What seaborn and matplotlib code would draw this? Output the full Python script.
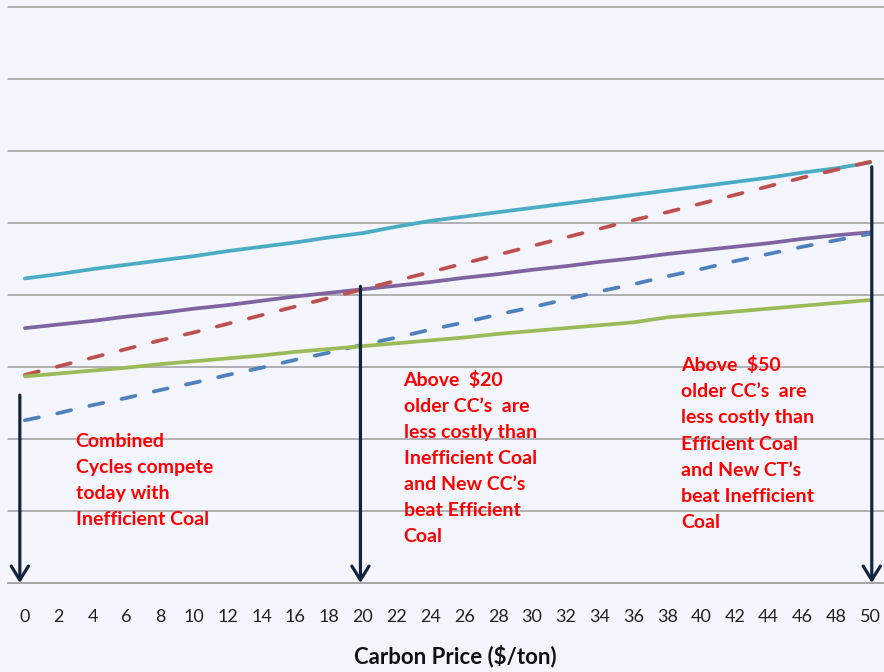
import pandas as pd
import numpy as np
import matplotlib.pyplot as plt
import seaborn as sns

carbon_price = [0, 2, 4, 6, 8, 10, 12, 14, 16, 18, 20, 22, 24, 26, 28, 30, 32, 34, 36, 38, 40, 42, 44, 46, 48, 50]
new_ct = [42.3, 42.9, 43.6, 44.2, 44.8, 45.4, 46.1, 46.7, 47.3, 48.0, 48.6, 49.5, 50.3, 50.9, 51.5, 52.1,
          52.7, 53.3, 53.9, 54.5, 55.1, 55.7, 56.3, 57.0, 57.6, 58.4]
older_cc = [35.4, 35.9, 36.4, 37.0, 37.5, 38.1, 38.6, 39.2, 39.8, 40.3, 40.8, 41.3, 41.8, 42.4, 42.9, 43.5,
            44.0, 44.6, 45.1, 45.7, 46.2, 46.7, 47.2, 47.8, 48.3, 48.7]
inefficient_coal = [28.9, 30.1, 31.3, 32.5, 33.7, 34.8, 36.0, 37.2, 38.4, 39.6, 40.8, 42.0, 43.2, 44.4, 45.6,
                    46.8, 48.0, 49.2, 50.4, 51.5, 52.7, 53.9, 55.1, 56.3, 57.4, 58.5]
efficient_coal = [22.6, 23.6, 24.7, 25.7, 26.8, 27.8, 28.9, 29.9, 31.0, 32.0, 33.1, 34.1, 35.2, 36.2, 37.3,
                  38.3, 39.4, 40.5, 41.5, 42.6, 43.6, 44.7, 45.7, 46.7, 47.6, 48.5]
new_cc = [28.7, 29.1, 29.5, 29.9, 30.4, 30.8, 31.2, 31.6, 32.1, 32.5, 32.9, 33.3, 33.7, 34.1, 34.6, 35.0,
          35.4, 35.8, 36.2, 36.9, 37.3, 37.7, 38.1, 38.5, 38.9, 39.3]

# arrows: carbon price where they sit, and the cost where they start
arrow_x = [-0.3, 19.85, 50.1]
arrow_top = [26.1, 41.2, 57.8]

notes = [
    "Combined\nCycles compete\ntoday with\nInefficient Coal",
    "Above  $20\nolder CC\u2019s  are\nless costly than\nInefficient Coal\nand New CC\u2019s\nbeat Efficient\nCoal",
    "Above  $50\nolder CC\u2019s  are\nless costly than\nEfficient Coal\nand New CT\u2019s\nbeat Inefficient\nCoal",
]

df = pd.DataFrame({
    'Carbon Price': carbon_price,
    'New CT': new_ct,
    'Older CC': older_cc,
    'Inefficient Coal': inefficient_coal,
    'Efficient Coal': efficient_coal,
    'New CC': new_cc,
})

sns.set_style('white')
plt.rcParams['font.family'] = ['Lato', 'DejaVu Sans']

bg = '#F5F6FD'
fig = plt.figure(figsize=(8.84, 6.72), dpi=100, facecolor=bg)
ax = fig.add_axes([8 / 884, 89 / 672, 879 / 884, 576 / 672])
ax.set_facecolor(bg)

styles = {
    'New CT': ('#4BACC6', False),
    'Older CC': ('#8064A2', False),
    'Inefficient Coal': ('#C0504D', True),
    'Efficient Coal': ('#4F81BD', True),
    'New CC': ('#9BBB59', False),
}
for name, (col, dashed) in styles.items():
    sns.lineplot(data=df, x='Carbon Price', y=name, color=col, lw=2.7, ax=ax, zorder=3)
    line = ax.lines[-1]
    line.set_solid_capstyle('round')
    if dashed:
        line.set_dashes([3.8, 5.0])
        line.set_dash_capstyle('round')

for xv, yt in zip(arrow_x, arrow_top):
    ax.annotate('', xy=(xv, 0), xytext=(xv, yt),
                arrowprops=dict(arrowstyle='->,head_length=1.0,head_width=0.62',
                                lw=2.3, color='#14243F', shrinkA=0, shrinkB=0),
                zorder=5)

note_pos = [(3.0, 20.9), (22.4, 29.5), (38.8, 31.5)]
for (tx, ty), txt in zip(note_pos, notes):
    ax.text(tx, ty, txt, color='#FF0000', fontsize=14, fontweight='bold',
            va='top', ha='left', linespacing=1.65, zorder=6)

ax.set_xlim(-1, 51)
ax.set_ylim(0, 80)
ax.set_yticks(np.arange(10, 81, 10))
ax.set_yticklabels([])
ax.tick_params(axis='y', length=0)
ax.grid(axis='y', color='#9E9E9E', lw=1.1)
ax.grid(axis='x', visible=False)
ax.set_axisbelow(True)
for gl in ax.get_ygridlines():
    gl.set_clip_on(False)

ax.set_xticks(carbon_price)
ax.set_xticklabels([str(v) for v in carbon_price])
ax.set_xticks(np.arange(-1, 52, 2), minor=True)
ax.tick_params(axis='x', which='major', length=0, pad=19, labelsize=13, labelcolor='#222222')
ax.tick_params(axis='x', which='minor', length=4, width=1, color='#9E9E9E', direction='out')

for s in ['top', 'right', 'left']:
    ax.spines[s].set_visible(False)
ax.spines['bottom'].set_color('#9E9E9E')
ax.spines['bottom'].set_linewidth(1.3)

ax.set_ylabel('')
ax.set_xlabel('Carbon Price ($/ton)', fontsize=16, fontweight='bold', color='#111111')
ax.xaxis.set_label_coords(447 / 879, -62 / 576)

fig.savefig('out.png', dpi=100, facecolor=bg)
